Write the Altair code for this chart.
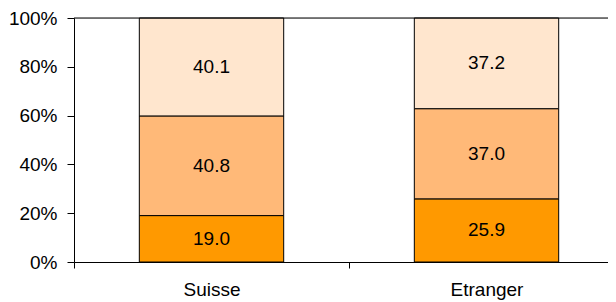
import altair as alt
import pandas as pd

categories = ["Suisse", "Etranger"]
segments = ["bas", "milieu", "haut"]
bottom_values = [19.0, 25.9]
middle_values = [40.8, 37.0]
top_values = [40.1, 37.2]
segment_colors = ["#FF9900", "#FFB978", "#FFE6CE"]
y_ticks = [0, 0.2, 0.4, 0.6, 0.8, 1.0]

rows = []
for i, cat in enumerate(categories):
    for j, (seg, vals) in enumerate(zip(segments, [bottom_values, middle_values, top_values])):
        rows.append({"cat": cat, "seg": seg, "order": j, "value": vals[i]})
df = pd.DataFrame(rows)

FONT = "Liberation Sans"

x_enc = alt.X(
    "cat:N",
    sort=categories,
    title=None,
    scale=alt.Scale(paddingInner=0, paddingOuter=0, rangeMax=550),
    axis=alt.Axis(
        tickBand="extent", labelAngle=0, domainColor="black", tickColor="black",
        tickSize=6, labelFont=FONT, labelFontSize=19, labelColor="black",
        labelPadding=12, domainWidth=1, tickWidth=1,
    ),
)

base = alt.Chart(df)

bars = base.mark_bar(width={"band": 0.525}, stroke="black", strokeWidth=1).encode(
    x=x_enc,
    y=alt.Y(
        "value:Q",
        stack="normalize",
        title=None,
        scale=alt.Scale(domain=[0, 1]),
        axis=alt.Axis(
            values=y_ticks, format="%", grid=False, domainColor="black",
            tickColor="black", tickSize=7, labelFont=FONT, labelFontSize=19,
            labelColor="black", labelPadding=10,
        ),
    ),
    color=alt.Color("seg:N", sort=segments, legend=None,
                    scale=alt.Scale(domain=segments, range=segment_colors)),
    order=alt.Order("order:Q", sort="ascending"),
)

labels = base.transform_joinaggregate(
    total="sum(value)", groupby=["cat"]
).transform_window(
    cum="sum(value)", groupby=["cat"], sort=[alt.SortField("order")]
).transform_calculate(
    mid="(datum.cum - datum.value / 2) / datum.total"
).mark_text(font=FONT, fontSize=19, color="black", baseline="middle").encode(
    x=alt.X("cat:N", sort=categories),
    y=alt.Y("mid:Q"),
    text=alt.Text("value:Q", format=".1f"),
)

top_line = alt.Chart(pd.DataFrame({"v": [1]})).mark_rule(color="black", strokeWidth=1).encode(
    y=alt.Y("v:Q"),
)

chart = alt.layer(bars, labels, top_line).properties(
    width=534,
    height=244,
    padding={"left": 66, "top": 10, "right": 0, "bottom": 40},
    autosize=alt.AutoSizeParams(type="none"),
).configure_view(stroke=None).configure(background="white")

chart.save("out.html", embed_options={"renderer": "svg", "actions": False})
